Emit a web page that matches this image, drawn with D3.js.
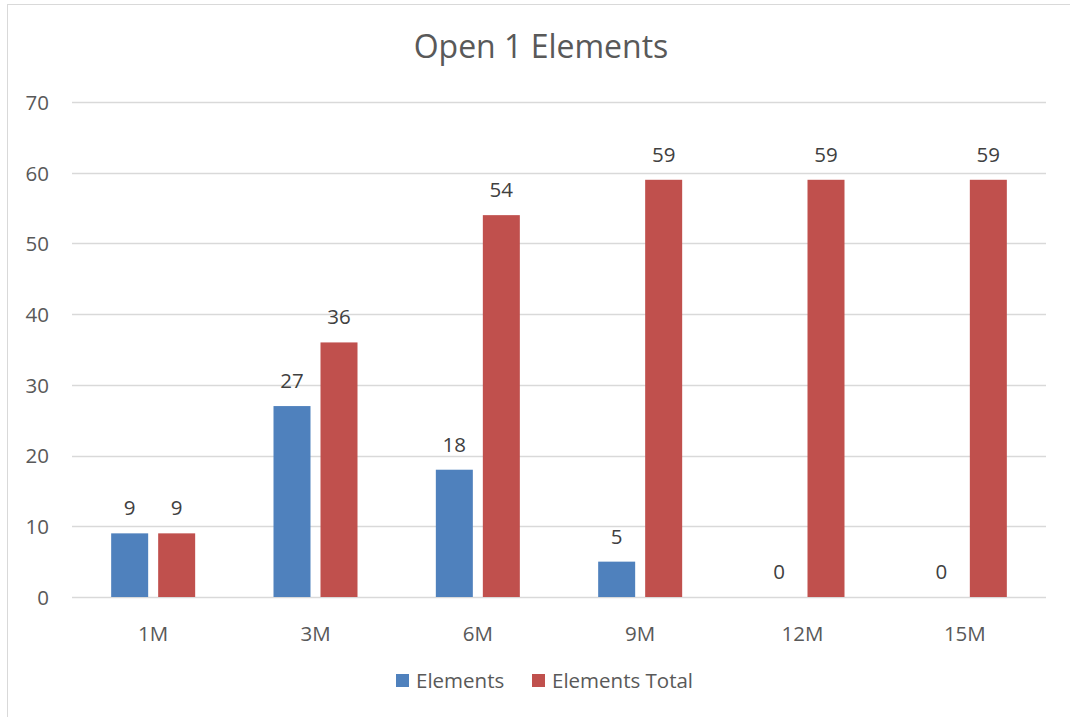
<!DOCTYPE html>
<html><head><meta charset="utf-8">
<script src="https://cdn.jsdelivr.net/npm/d3@7"></script>
<style>body{margin:0;background:#fff;}svg{display:block;font-family:"Open Sans",sans-serif;}</style>
</head><body><svg id="c" width="1070" height="717"></svg>
<script>
const categories = ["1M","3M","6M","9M","12M","15M"];
const elements = [9,27,18,5,0,0];
const elementsTotal = [9,36,54,59,59,59];
const seriesNames = ["Elements","Elements Total"];
const yTicks = [0,10,20,30,40,50,60,70];
const colors = ["#4F81BD","#C0504D"];

(function(){
const FONT = "'Open Sans',sans-serif";
const FS = 20.5;
const svg = d3.select("#c");
svg.append("rect").attr("x",7.5).attr("y",4.5).attr("width",1080).attr("height",720)
  .attr("fill","#fff").attr("stroke","#D9D9D9").attr("stroke-width",1);

const pLeft=72,pRight=1046,pTop=102,pBottom=597;
const x = d3.scaleBand().domain(categories).range([pLeft,pRight]).paddingInner(0).paddingOuter(0);
const y = d3.scaleLinear().domain([0,70]).range([pBottom,pTop]);

svg.append("g").selectAll("line").data(yTicks).join("line")
  .attr("x1",pLeft).attr("x2",pRight).attr("y1",d=>Math.round(y(d))+0.5).attr("y2",d=>Math.round(y(d))+0.5)
  .attr("stroke","#D9D9D9").attr("stroke-width",1.5);

const yAxis = d3.axisLeft(y).tickValues(yTicks).tickSize(0).tickPadding(0);
const gy = svg.append("g").attr("transform",`translate(${pLeft-23},0)`).call(yAxis);
gy.select(".domain").remove();
gy.selectAll("text").attr("font-size",FS).attr("fill","#595959").attr("font-family",FONT).attr("dy","0.36em");

const xAxis = d3.axisBottom(x).tickSize(0).tickPadding(0);
const gx = svg.append("g").attr("transform",`translate(0,${pBottom+44})`).call(xAxis);
gx.select(".domain").remove();
gx.selectAll("text").attr("font-size",FS).attr("fill","#595959").attr("font-family",FONT).attr("dy","0");

const barW = 37, gap = 10;
const series = [elements, elementsTotal];
series.forEach((vals,si)=>{
  const off = si===0 ? -gap/2-barW : gap/2;
  const g = svg.append("g");
  g.selectAll("rect").data(vals).join("rect")
    .attr("x",(d,i)=>x(categories[i])+x.bandwidth()/2+off)
    .attr("y",d=>y(d)).attr("width",barW).attr("height",d=>y(0)-y(d))
    .attr("fill",colors[si]);
  g.selectAll("text").data(vals).join("text")
    .attr("x",(d,i)=>x(categories[i])+x.bandwidth()/2+off+barW/2)
    .attr("y",d=>y(d)-18)
    .attr("text-anchor","middle").attr("font-size",FS).attr("fill","#404040").attr("font-family",FONT)
    .text(d=>d);
});

svg.append("text").attr("x",541).attr("y",58).attr("text-anchor","middle").attr("font-family",FONT)
  .attr("font-size",32).attr("fill","#595959").text("Open 1 Elements");

const leg = svg.append("g");
const legX = [396,532];
seriesNames.forEach((n,i)=>{
  leg.append("rect").attr("x",legX[i]).attr("y",674).attr("width",13).attr("height",13).attr("fill",colors[i]);
  leg.append("text").attr("x",legX[i]+20).attr("y",688).attr("font-size",FS).attr("font-family",FONT).attr("fill","#595959").text(n);
});
})();
</script></body></html>
